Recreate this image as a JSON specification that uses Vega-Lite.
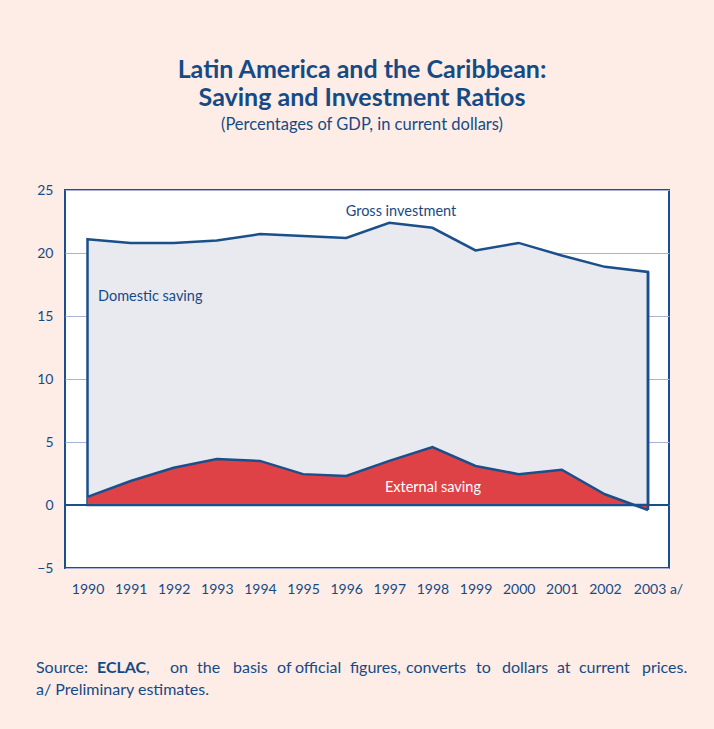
{
  "$schema": "https://vega.github.io/schema/vega-lite/v6.json",
  "width": 604,
  "height": 378,
  "autosize": {"type": "none"},
  "padding": {"left": 65, "top": 190, "right": 45, "bottom": 161},
  "background": "#fdede6",
  "config": {
    "view": {"fill": "white", "stroke": "#1a4f8b", "strokeWidth": 2},
    "font": "Lato",
    "text": {"font": "Lato", "color": "#164a85", "fontSize": 16, "align": "left", "baseline": "alphabetic"}
  },
  "title": {
    "text": ["Latin America and the Caribbean:", "Saving and Investment Ratios"],
    "subtitle": "(Percentages of GDP, in current dollars)",
    "anchor": "middle",
    "font": "Lato",
    "fontSize": 25,
    "fontWeight": "bold",
    "color": "#164a85",
    "lineHeight": 27.5,
    "subtitleFont": "Lato",
    "subtitleFontSize": 16.5,
    "subtitleColor": "#164a85",
    "subtitlePadding": 6,
    "offset": 50,
    "dx": -5
  },
  "data": {
    "values": [
      {"year": 1990, "investment": 21.1, "external": 0.65},
      {"year": 1991, "investment": 20.8, "external": 1.9},
      {"year": 1992, "investment": 20.8, "external": 2.95},
      {"year": 1993, "investment": 21.0, "external": 3.65},
      {"year": 1994, "investment": 21.5, "external": 3.5},
      {"year": 1995, "investment": 21.35, "external": 2.45},
      {"year": 1996, "investment": 21.2, "external": 2.3},
      {"year": 1997, "investment": 22.4, "external": 3.5},
      {"year": 1998, "investment": 22.0, "external": 4.6},
      {"year": 1999, "investment": 20.2, "external": 3.1},
      {"year": 2000, "investment": 20.8, "external": 2.45},
      {"year": 2001, "investment": 19.8, "external": 2.8},
      {"year": 2002, "investment": 18.9, "external": 0.85},
      {"year": 2003, "investment": 18.5, "external": -0.4}
    ]
  },
  "layer": [
    {
      "mark": {"type": "area", "fill": "#e9eaf0", "stroke": "#1a4f8b", "strokeWidth": 2.5, "strokeJoin": "miter"},
      "encoding": {
        "x": {
          "field": "year", "type": "quantitative",
          "scale": {"domain": [1989.478, 2003.487], "nice": false, "zero": false},
          "axis": {
            "title": null,
            "values": [1990, 1991, 1992, 1993, 1994, 1995, 1996, 1997, 1998, 1999, 2000, 2001, 2002, 2003],
            "format": "d",
            "labelExpr": "datum.value == 2003 ? '2003 a/' : datum.label",
            "labelOffset": {"condition": {"test": "datum.value == 2003", "value": 10}, "value": 0},
            "grid": false, "domain": false, "ticks": false, "tickSize": 0,
            "labelPadding": 14,
            "labelFont": "Lato", "labelFontSize": 14, "labelColor": "#164a85"
          }
        },
        "y": {
          "field": "investment", "type": "quantitative",
          "scale": {"domain": [-5, 25], "nice": false, "zero": false},
          "axis": {
            "title": null,
            "values": [-5, 0, 5, 10, 15, 20, 25],
            "grid": true, "gridColor": "#a9b3d6", "gridWidth": 1, "gridOpacity": 1,
            "domain": false, "ticks": false, "tickSize": 0,
            "labelPadding": 12,
            "labelFont": "Lato", "labelFontSize": 14, "labelColor": "#164a85"
          }
        },
        "y2": {"datum": 0}
      }
    },
    {
      "mark": {"type": "area", "fill": "#de4247"},
      "encoding": {
        "x": {"field": "year", "type": "quantitative", "scale": {"domain": [1989.478, 2003.487], "nice": false, "zero": false}},
        "y": {"field": "external", "type": "quantitative", "scale": {"domain": [-5, 25], "nice": false, "zero": false}},
        "y2": {"datum": 0}
      }
    },
    {
      "mark": {"type": "line", "stroke": "#1a4f8b", "strokeWidth": 2.5},
      "encoding": {
        "x": {"field": "year", "type": "quantitative", "scale": {"domain": [1989.478, 2003.487], "nice": false, "zero": false}},
        "y": {"field": "external", "type": "quantitative", "scale": {"domain": [-5, 25], "nice": false, "zero": false}}
      }
    },
    {
      "mark": {"type": "rule", "stroke": "#1a4f8b", "strokeWidth": 2},
      "encoding": {
        "y": {"datum": 0, "type": "quantitative", "scale": {"domain": [-5, 25], "nice": false, "zero": false}}
      }
    },
    {
      "transform": [{"filter": "datum.year == 2003"}],
      "mark": {"type": "rule", "stroke": "#1a4f8b", "strokeWidth": 2.5},
      "encoding": {
        "x": {"field": "year", "type": "quantitative", "scale": {"domain": [1989.478, 2003.487], "nice": false, "zero": false}},
        "y": {"field": "external", "type": "quantitative", "scale": {"domain": [-5, 25], "nice": false, "zero": false}},
        "y2": {"field": "investment"}
      }
    },
    {
      "data": {"values": [{"label": "Gross investment"}]},
      "mark": {"type": "text", "align": "center", "fontSize": 14.5},
      "encoding": {
        "x": {"datum": 1997.27, "type": "quantitative", "scale": {"domain": [1989.478, 2003.487], "nice": false, "zero": false}},
        "y": {"datum": 22.94, "type": "quantitative", "scale": {"domain": [-5, 25], "nice": false, "zero": false}},
        "text": {"field": "label"}
      }
    },
    {
      "data": {"values": [{"label": "Domestic saving"}]},
      "mark": {"type": "text", "fontSize": 14.5},
      "encoding": {
        "x": {"datum": 1990.243, "type": "quantitative", "scale": {"domain": [1989.478, 2003.487], "nice": false, "zero": false}},
        "y": {"datum": 16.19, "type": "quantitative", "scale": {"domain": [-5, 25], "nice": false, "zero": false}},
        "text": {"field": "label"}
      }
    },
    {
      "data": {"values": [{"label": "External saving"}]},
      "mark": {"type": "text", "align": "center", "fontSize": 14.5, "color": "white"},
      "encoding": {
        "x": {"datum": 1998.012, "type": "quantitative", "scale": {"domain": [1989.478, 2003.487], "nice": false, "zero": false}},
        "y": {"datum": 1.03, "type": "quantitative", "scale": {"domain": [-5, 25], "nice": false, "zero": false}},
        "text": {"field": "label"}
      }
    },
    {
      "data": {"values": [{"label": "Source:"}]},
      "mark": {"type": "text"},
      "encoding": {
        "x": {"datum": 1988.805, "type": "quantitative", "scale": {"domain": [1989.478, 2003.487], "nice": false, "zero": false}},
        "y": {"datum": -13.333, "type": "quantitative", "scale": {"domain": [-5, 25], "nice": false, "zero": false}},
        "text": {"field": "label"}
      }
    },
    {
      "data": {"values": [{"label": "ECLAC"}]},
      "mark": {"type": "text", "fontWeight": "bold"},
      "encoding": {
        "x": {"datum": 1990.22, "type": "quantitative", "scale": {"domain": [1989.478, 2003.487], "nice": false, "zero": false}},
        "y": {"datum": -13.333, "type": "quantitative", "scale": {"domain": [-5, 25], "nice": false, "zero": false}},
        "text": {"field": "label"}
      }
    },
    {
      "data": {"values": [{"label": ","}]},
      "mark": {"type": "text"},
      "encoding": {
        "x": {"datum": 1991.356, "type": "quantitative", "scale": {"domain": [1989.478, 2003.487], "nice": false, "zero": false}},
        "y": {"datum": -13.333, "type": "quantitative", "scale": {"domain": [-5, 25], "nice": false, "zero": false}},
        "text": {"field": "label"}
      }
    },
    {
      "data": {"values": [{"label": "on"}]},
      "mark": {"type": "text"},
      "encoding": {
        "x": {"datum": 1991.913, "type": "quantitative", "scale": {"domain": [1989.478, 2003.487], "nice": false, "zero": false}},
        "y": {"datum": -13.333, "type": "quantitative", "scale": {"domain": [-5, 25], "nice": false, "zero": false}},
        "text": {"field": "label"}
      }
    },
    {
      "data": {"values": [{"label": "the"}]},
      "mark": {"type": "text"},
      "encoding": {
        "x": {"datum": 1992.539, "type": "quantitative", "scale": {"domain": [1989.478, 2003.487], "nice": false, "zero": false}},
        "y": {"datum": -13.333, "type": "quantitative", "scale": {"domain": [-5, 25], "nice": false, "zero": false}},
        "text": {"field": "label"}
      }
    },
    {
      "data": {"values": [{"label": "basis"}]},
      "mark": {"type": "text"},
      "encoding": {
        "x": {"datum": 1993.374, "type": "quantitative", "scale": {"domain": [1989.478, 2003.487], "nice": false, "zero": false}},
        "y": {"datum": -13.333, "type": "quantitative", "scale": {"domain": [-5, 25], "nice": false, "zero": false}},
        "text": {"field": "label"}
      }
    },
    {
      "data": {"values": [{"label": "of"}]},
      "mark": {"type": "text"},
      "encoding": {
        "x": {"datum": 1994.395, "type": "quantitative", "scale": {"domain": [1989.478, 2003.487], "nice": false, "zero": false}},
        "y": {"datum": -13.333, "type": "quantitative", "scale": {"domain": [-5, 25], "nice": false, "zero": false}},
        "text": {"field": "label"}
      }
    },
    {
      "data": {"values": [{"label": "official"}]},
      "mark": {"type": "text"},
      "encoding": {
        "x": {"datum": 1994.812, "type": "quantitative", "scale": {"domain": [1989.478, 2003.487], "nice": false, "zero": false}},
        "y": {"datum": -13.333, "type": "quantitative", "scale": {"domain": [-5, 25], "nice": false, "zero": false}},
        "text": {"field": "label"}
      }
    },
    {
      "data": {"values": [{"label": "figures,"}]},
      "mark": {"type": "text"},
      "encoding": {
        "x": {"datum": 1996.087, "type": "quantitative", "scale": {"domain": [1989.478, 2003.487], "nice": false, "zero": false}},
        "y": {"datum": -13.333, "type": "quantitative", "scale": {"domain": [-5, 25], "nice": false, "zero": false}},
        "text": {"field": "label"}
      }
    },
    {
      "data": {"values": [{"label": "converts"}]},
      "mark": {"type": "text"},
      "encoding": {
        "x": {"datum": 1997.386, "type": "quantitative", "scale": {"domain": [1989.478, 2003.487], "nice": false, "zero": false}},
        "y": {"datum": -13.333, "type": "quantitative", "scale": {"domain": [-5, 25], "nice": false, "zero": false}},
        "text": {"field": "label"}
      }
    },
    {
      "data": {"values": [{"label": "to"}]},
      "mark": {"type": "text"},
      "encoding": {
        "x": {"datum": 1999.01, "type": "quantitative", "scale": {"domain": [1989.478, 2003.487], "nice": false, "zero": false}},
        "y": {"datum": -13.333, "type": "quantitative", "scale": {"domain": [-5, 25], "nice": false, "zero": false}},
        "text": {"field": "label"}
      }
    },
    {
      "data": {"values": [{"label": "dollars"}]},
      "mark": {"type": "text"},
      "encoding": {
        "x": {"datum": 1999.612, "type": "quantitative", "scale": {"domain": [1989.478, 2003.487], "nice": false, "zero": false}},
        "y": {"datum": -13.333, "type": "quantitative", "scale": {"domain": [-5, 25], "nice": false, "zero": false}},
        "text": {"field": "label"}
      }
    },
    {
      "data": {"values": [{"label": "at"}]},
      "mark": {"type": "text"},
      "encoding": {
        "x": {"datum": 2000.888, "type": "quantitative", "scale": {"domain": [1989.478, 2003.487], "nice": false, "zero": false}},
        "y": {"datum": -13.333, "type": "quantitative", "scale": {"domain": [-5, 25], "nice": false, "zero": false}},
        "text": {"field": "label"}
      }
    },
    {
      "data": {"values": [{"label": "current"}]},
      "mark": {"type": "text"},
      "encoding": {
        "x": {"datum": 2001.398, "type": "quantitative", "scale": {"domain": [1989.478, 2003.487], "nice": false, "zero": false}},
        "y": {"datum": -13.333, "type": "quantitative", "scale": {"domain": [-5, 25], "nice": false, "zero": false}},
        "text": {"field": "label"}
      }
    },
    {
      "data": {"values": [{"label": "prices."}]},
      "mark": {"type": "text"},
      "encoding": {
        "x": {"datum": 2002.859, "type": "quantitative", "scale": {"domain": [1989.478, 2003.487], "nice": false, "zero": false}},
        "y": {"datum": -13.333, "type": "quantitative", "scale": {"domain": [-5, 25], "nice": false, "zero": false}},
        "text": {"field": "label"}
      }
    },
    {
      "data": {"values": [{"label": "a/ Preliminary estimates."}]},
      "mark": {"type": "text"},
      "encoding": {
        "x": {"datum": 1988.805, "type": "quantitative", "scale": {"domain": [1989.478, 2003.487], "nice": false, "zero": false}},
        "y": {"datum": -15.079, "type": "quantitative", "scale": {"domain": [-5, 25], "nice": false, "zero": false}},
        "text": {"field": "label"}
      }
    }
  ]
}
